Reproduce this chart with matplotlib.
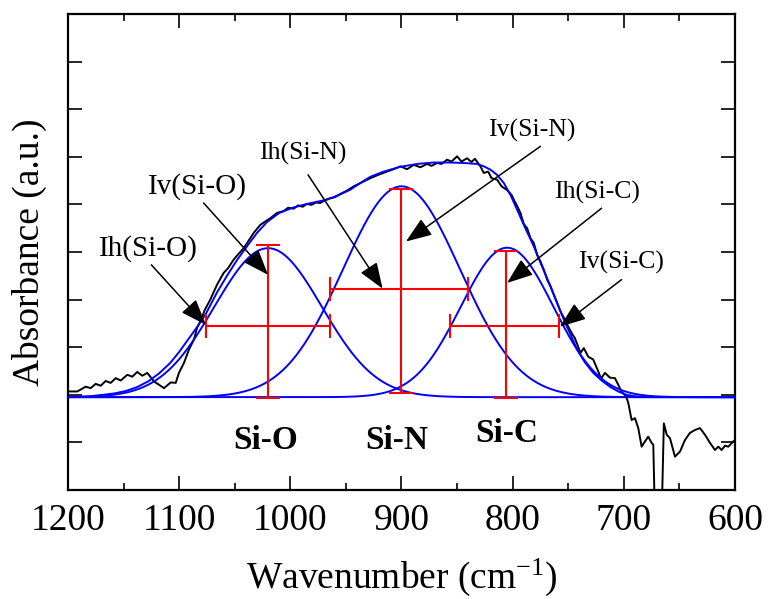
import numpy as np
import matplotlib
matplotlib.use("Agg")
import matplotlib.pyplot as plt

plt.rcParams['font.family'] = ['Liberation Serif', 'DejaVu Serif']
plt.rcParams['mathtext.fontset'] = 'custom'
plt.rcParams['mathtext.rm'] = 'Liberation Serif'
plt.rcParams['mathtext.default'] = 'regular'

# ---------------- data ----------------
# measured spectrum (wavenumber, absorbance)
spec_wn = [1200, 1197.6, 1191.6, 1184.1, 1179.6, 1175.1, 1170.6, 1166.1, 1161.6, 1157.1,
           1152.6, 1146.6, 1142.2, 1137.7, 1133.2, 1128.7, 1122.6, 1113.6, 1107.6, 1103.1,
           1100.2, 1095.7, 1091.2, 1086.7, 1084, 1081, 1077, 1072, 1066, 1060,
           1056, 1051, 1047, 1042, 1038, 1033, 1027, 1022, 1018, 1012,
           1006, 1002, 997, 993, 989, 985, 981, 977, 973, 968,
           964, 960, 955, 949, 943, 936, 928, 921, 913, 907,
           901, 895, 889, 883, 877, 873, 868, 864, 859, 855,
           850, 846, 841, 837, 834, 829, 826, 822, 819, 814,
           810, 805, 801, 799, 796, 793, 790, 787, 784, 781,
           778, 775, 772, 769, 766, 763, 760, 757, 753, 750,
           747, 744, 739, 736, 732, 727.5, 723, 720.5, 717, 712.5,
           708, 705, 702, 698, 696, 693, 690, 687, 684, 681,
           678, 675, 673.5, 672, 666, 664, 661.4, 658.5, 654, 649.4,
           645, 640.5, 636, 631.5, 627, 622.5, 618, 615, 612, 609,
           606, 601.5, 600]
spec_abs = [0.07, 0.07, 0.07, 0.17, 0.14, 0.23, 0.19, 0.29, 0.25, 0.35,
            0.30, 0.42, 0.38, 0.48, 0.40, 0.46, 0.28, 0.14, 0.26, 0.25,
            0.46, 0.67, 0.95, 1.16, 1.40, 1.54, 1.78, 2.00, 2.31, 2.56,
            2.66, 2.84, 2.95, 3.08, 3.22, 3.40, 3.57, 3.65, 3.71, 3.82,
            3.86, 3.93, 3.91, 3.98, 3.95, 4.01, 3.99, 4.04, 4.03, 4.10,
            4.13, 4.15, 4.22, 4.29, 4.38, 4.46, 4.55, 4.62, 4.69, 4.74,
            4.80, 4.74, 4.83, 4.78, 4.85, 4.81, 4.87, 4.85, 4.94, 4.90,
            5.01, 4.90, 4.97, 4.89, 4.96, 4.80, 4.66, 4.69, 4.55, 4.52,
            4.38, 4.30, 4.20, 4.10, 3.97, 3.82, 3.59, 3.50, 3.29, 3.19,
            2.94, 2.80, 2.63, 2.42, 2.28, 2.10, 1.93, 1.75, 1.58, 1.43,
            1.30, 1.19, 0.88, 0.98, 0.80, 0.74, 0.49, 0.34, 0.46, 0.36,
            0.35, 0.21, 0.06, -0.03, -0.17, -0.53, -0.49, -0.70, -1.09, -0.98,
            -0.88, -1.01, -1.05, -2.6, -2.6, -0.60, -0.84, -0.91, -1.30, -1.19,
            -0.95, -0.80, -0.74, -0.70, -0.84, -1.01, -1.16, -1.09, -1.16, -1.07,
            -1.09, -0.98, -0.95]

# fitted envelope (wavenumber, absorbance)
env_wn = [1200, 1180, 1168, 1158, 1148, 1138, 1128, 1118, 1108, 1100,
          1092, 1084, 1076, 1066, 1057, 1048, 1039, 1030, 1021, 1010,
          998, 985, 967, 956, 946, 937, 928, 916, 901, 886,
          871, 856, 844, 832, 826, 820, 814, 808, 802, 796,
          789, 781, 774, 766, 760, 754, 748, 742, 735, 727.5,
          720, 712.5, 705, 697.5, 690, 680, 600]
env_abs = [-0.05, -0.03, 0.0, 0.03, 0.08, 0.16, 0.28, 0.45, 0.67, 0.90,
           1.16, 1.42, 1.70, 2.15, 2.50, 2.83, 3.12, 3.40, 3.63, 3.82,
           3.93, 4.01, 4.10, 4.20, 4.31, 4.45, 4.58, 4.69, 4.79, 4.85,
           4.88, 4.88, 4.87, 4.85, 4.80, 4.73, 4.62, 4.45, 4.20, 3.89,
           3.52, 3.12, 2.72, 2.28, 1.93, 1.58, 1.27, 0.95, 0.68, 0.46,
           0.30, 0.17, 0.07, 0.0, -0.03, -0.045, -0.05]

# Gaussian components
bands = ['Si-O', 'Si-N', 'Si-C']
band_center = [1020, 900, 805]
band_height = [3.13, 4.43, 3.14]
band_fwhm = [114, 124, 98]
baseline = -0.05

# red markers: intensity (vertical) and half-width (horizontal) bars
iv_top = [3.14, 4.33, 3.03]
iv_bottom = [-0.07, 0.035, -0.07]
ih_level = [1.435, 2.227, 1.435]
ih_high_wn = [1076, 964, 856.5]
ih_low_wn = [964, 840, 758.5]
bar_center = [1020, 900, 806]

# annotations: label, label position, arrow start, arrow tip, font size
ann_labels = ['Ih(Si-O)', 'Iv(Si-O)', 'Ih(Si-N)', 'Iv(Si-N)', 'Ih(Si-C)', 'Iv(Si-C)']
ann_text_xy = [(1128, 3.08), (1084, 4.37), (988.6, 5.06), (782.6, 5.55), (724.1, 4.26), (702.6, 2.79)]
ann_start = [(1125, 2.73), (1078, 4.03), (984, 4.62), (775, 5.22), (720, 3.92), (702, 2.42)]
ann_tip = [(1076, 1.47), (1020, 2.52), (917, 2.23), (896, 3.22), (805, 2.35), (757.5, 1.43)]
ann_size = [21, 21, 18.5, 18.5, 18.5, 18.5]

band_label_xy = [(1022, -0.97), (904, -0.95), (805, -0.82)]

xticks = [1200, 1100, 1000, 900, 800, 700, 600]

# ---------------- plot ----------------
fig = plt.figure(figsize=(7.71, 5.99), dpi=100)
ax = fig.add_axes([0.0882, 0.182, 0.8651, 0.7946])

ax.plot(spec_wn, spec_abs, color='black', lw=1.4, zorder=2)

xs = np.linspace(1200, 600, 1201)
for c, h, w in zip(band_center, band_height, band_fwhm):
    s = w / (2 * np.sqrt(2 * np.log(2)))
    ax.plot(xs, baseline + h * np.exp(-0.5 * ((xs - c) / s) ** 2), color='blue', lw=1.4, zorder=3)
ax.plot(env_wn, env_abs, color='blue', lw=1.4, zorder=3)

for c, top, bot, lev, hi, lo in zip(bar_center, iv_top, iv_bottom, ih_level, ih_high_wn, ih_low_wn):
    ax.errorbar([c], [lev],
                xerr=[[c - lo], [hi - c]],
                yerr=[[lev - bot], [top - lev]],
                fmt='none', ecolor='red', elinewidth=1.5, capsize=8.5, capthick=1.5, zorder=4)

for lab, txy, st, tp, fs in zip(ann_labels, ann_text_xy, ann_start, ann_tip, ann_size):
    ax.text(txy[0], txy[1], lab, fontsize=fs, ha='center', va='center', zorder=6)
    ax.annotate('', xy=tp, xytext=st,
                arrowprops=dict(arrowstyle='-|>,head_length=0.8,head_width=0.3',
                                color='black', lw=1.1, mutation_scale=20,
                                shrinkA=0, shrinkB=0),
                zorder=5)

for lab, (bx, by) in zip(bands, band_label_xy):
    ax.text(bx, by, lab, fontsize=24, fontweight='bold', ha='center', va='center')

ax.set_xlim(1200, 600)
ax.set_ylim(-2, 8)
ax.set_xticks(xticks)
ax.set_xticks(np.arange(1150, 600, -100), minor=True)
ax.set_yticks(np.arange(-2, 9, 1))
ax.set_yticklabels([])
ax.tick_params(axis='both', which='major', direction='in', length=10, width=1.2,
               top=True, right=True, labelsize=27, pad=10)
ax.tick_params(axis='both', which='minor', direction='in', length=5, width=1.2,
               top=True, right=True)
for sp in ax.spines.values():
    sp.set_linewidth(1.6)

ax.set_xlabel('Wavenumber (cm$^{-1}$)', fontsize=27, labelpad=13)
ax.set_ylabel('Absorbance (a.u.)', fontsize=27, labelpad=5)

fig.savefig('out.png', dpi=100)
